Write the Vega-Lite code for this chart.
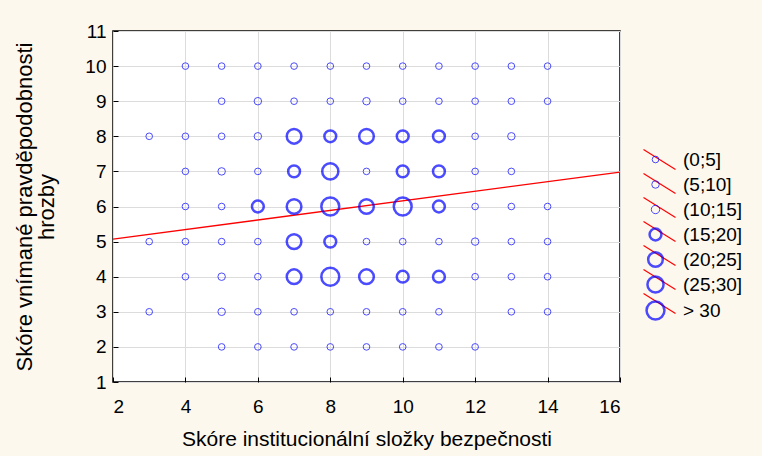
{
  "$schema": "https://vega.github.io/schema/vega-lite/v6.json",
  "width": 507,
  "height": 351,
  "autosize": "none",
  "padding": {"left": 113, "top": 31, "right": 142, "bottom": 74},
  "background": "#FDF8EE",
  "config": {
    "view": {"stroke": "#000000", "strokeWidth": 1.5, "fill": "#FFFFFF"},
    "axis": {"labelFont": "Liberation Sans", "titleFont": "Liberation Sans", "labelFontSize": 19, "labelColor": "#000000", "titleColor": "#000000", "titleFontWeight": "normal", "domain": false, "tickColor": "#000000", "gridColor": "#DCDCDC", "labelOverlap": false},
    "legend": {"labelFont": "Liberation Sans", "labelFontSize": 19, "labelColor": "#000000"}
  },
  "data": {
    "values": [
      {"x": 4, "y": 10, "k": 1}, {"x": 5, "y": 10, "k": 1}, {"x": 6, "y": 10, "k": 1}, {"x": 7, "y": 10, "k": 1}, {"x": 8, "y": 10, "k": 1}, {"x": 9, "y": 10, "k": 1}, {"x": 10, "y": 10, "k": 1}, {"x": 11, "y": 10, "k": 1}, {"x": 12, "y": 10, "k": 1}, {"x": 13, "y": 10, "k": 1}, {"x": 14, "y": 10, "k": 1},
      {"x": 5, "y": 9, "k": 1}, {"x": 6, "y": 9, "k": 2}, {"x": 7, "y": 9, "k": 1}, {"x": 8, "y": 9, "k": 1}, {"x": 9, "y": 9, "k": 2}, {"x": 10, "y": 9, "k": 1}, {"x": 11, "y": 9, "k": 1}, {"x": 12, "y": 9, "k": 1}, {"x": 13, "y": 9, "k": 1}, {"x": 14, "y": 9, "k": 1},
      {"x": 3, "y": 8, "k": 1}, {"x": 4, "y": 8, "k": 1}, {"x": 5, "y": 8, "k": 1}, {"x": 6, "y": 8, "k": 2}, {"x": 7, "y": 8, "k": 5}, {"x": 8, "y": 8, "k": 4}, {"x": 9, "y": 8, "k": 5}, {"x": 10, "y": 8, "k": 4}, {"x": 11, "y": 8, "k": 4}, {"x": 12, "y": 8, "k": 1}, {"x": 13, "y": 8, "k": 2},
      {"x": 4, "y": 7, "k": 1}, {"x": 5, "y": 7, "k": 2}, {"x": 6, "y": 7, "k": 1}, {"x": 7, "y": 7, "k": 4}, {"x": 8, "y": 7, "k": 6}, {"x": 9, "y": 7, "k": 1}, {"x": 10, "y": 7, "k": 4}, {"x": 11, "y": 7, "k": 4}, {"x": 12, "y": 7, "k": 1}, {"x": 13, "y": 7, "k": 1},
      {"x": 4, "y": 6, "k": 1}, {"x": 5, "y": 6, "k": 1}, {"x": 6, "y": 6, "k": 4}, {"x": 7, "y": 6, "k": 5}, {"x": 8, "y": 6, "k": 7}, {"x": 9, "y": 6, "k": 5}, {"x": 10, "y": 6, "k": 7}, {"x": 11, "y": 6, "k": 4}, {"x": 12, "y": 6, "k": 1}, {"x": 13, "y": 6, "k": 1}, {"x": 14, "y": 6, "k": 1},
      {"x": 3, "y": 5, "k": 1}, {"x": 4, "y": 5, "k": 1}, {"x": 5, "y": 5, "k": 1}, {"x": 6, "y": 5, "k": 1}, {"x": 7, "y": 5, "k": 5}, {"x": 8, "y": 5, "k": 4}, {"x": 9, "y": 5, "k": 1}, {"x": 10, "y": 5, "k": 1}, {"x": 11, "y": 5, "k": 1}, {"x": 12, "y": 5, "k": 2}, {"x": 13, "y": 5, "k": 1}, {"x": 14, "y": 5, "k": 1},
      {"x": 4, "y": 4, "k": 1}, {"x": 5, "y": 4, "k": 2}, {"x": 6, "y": 4, "k": 1}, {"x": 7, "y": 4, "k": 5}, {"x": 8, "y": 4, "k": 7}, {"x": 9, "y": 4, "k": 5}, {"x": 10, "y": 4, "k": 4}, {"x": 11, "y": 4, "k": 4}, {"x": 12, "y": 4, "k": 1}, {"x": 13, "y": 4, "k": 1}, {"x": 14, "y": 4, "k": 1},
      {"x": 3, "y": 3, "k": 1}, {"x": 5, "y": 3, "k": 2}, {"x": 6, "y": 3, "k": 1}, {"x": 7, "y": 3, "k": 1}, {"x": 8, "y": 3, "k": 1}, {"x": 9, "y": 3, "k": 1}, {"x": 10, "y": 3, "k": 1}, {"x": 11, "y": 3, "k": 1}, {"x": 13, "y": 3, "k": 1}, {"x": 14, "y": 3, "k": 1},
      {"x": 5, "y": 2, "k": 1}, {"x": 6, "y": 2, "k": 1}, {"x": 7, "y": 2, "k": 1}, {"x": 8, "y": 2, "k": 1}, {"x": 9, "y": 2, "k": 1}, {"x": 10, "y": 2, "k": 1}, {"x": 11, "y": 2, "k": 1}, {"x": 12, "y": 2, "k": 1}
    ]
  },
  "encoding": {
    "x": {"field": "x", "type": "quantitative", "scale": {"domain": [2, 16], "nice": false, "zero": false},
          "axis": {"values": [2, 4, 6, 8, 10, 12, 14, 16], "title": "Skóre institucionální složky bezpečnosti", "titleFontSize": 21, "titlePadding": 12, "labelPadding": 20, "tickSize": -5}},
    "y": {"field": "y", "type": "quantitative", "scale": {"domain": [1, 11], "nice": false, "zero": false},
          "axis": {"values": [1, 2, 3, 4, 5, 6, 7, 8, 9, 10, 11], "title": ["Skóre vnímané pravděpodobnosti", "hrozby"], "titleFontSize": 22, "titleLineHeight": 22, "titlePadding": 26, "labelPadding": 12, "tickSize": -5}}
  },
  "layer": [
    {
      "data": {"values": [{"x": 2, "y": 5.07, "s": "r1"}, {"x": 16, "y": 6.98, "s": "r1"}]},
      "mark": {"type": "line", "strokeWidth": 1.3, "clip": true},
      "encoding": {
        "color": {"field": "s", "type": "nominal",
                  "scale": {"domain": ["r1", "r2", "r3", "r4", "r5", "r6", "r7"], "range": ["#FF0000", "#FF0000", "#FF0000", "#FF0000", "#FF0000", "#FF0000", "#FF0000"]},
                  "legend": {"title": null, "orient": "none", "legendX": 537, "legendY": 119, "padding": 0, "rowPadding": -1, "gridAlign": "all", "symbolType": "M-4,-2.5L4,2.5", "symbolSize": 64, "symbolStrokeWidth": 1.2, "labelExpr": "''", "labelOffset": 0}}
      }
    },
    {
      "mark": {"type": "point", "shape": "circle", "filled": false, "color": "#0000FF"},
      "encoding": {
        "size": {"field": "k", "type": "ordinal",
                 "scale": {"type": "ordinal", "domain": [1, 2, 3, 4, 5, 6, 7], "range": [44, 56, 70, 140, 215, 260, 320]},
                 "legend": {"title": null, "orient": "none", "legendX": 532, "legendY": 119, "rowPadding": -5, "gridAlign": "all", "labelOffset": 17, "padding": 0,
                            "labelExpr": "['(0;5]','(5;10]','(10;15]','(15;20]','(20;25]','(25;30]','> 30'][datum.value - 1]"}},
        "strokeWidth": {"field": "k", "type": "ordinal",
                 "scale": {"type": "ordinal", "domain": [1, 2, 3, 4, 5, 6, 7], "range": [1, 1, 1, 2.5, 2.5, 2.5, 2.5]},
                 "legend": {"title": null, "orient": "none", "legendX": 532, "legendY": 119,
                            "labelExpr": "['(0;5]','(5;10]','(10;15]','(15;20]','(20;25]','(25;30]','> 30'][datum.value - 1]"}}
      }
    }
  ]
}
